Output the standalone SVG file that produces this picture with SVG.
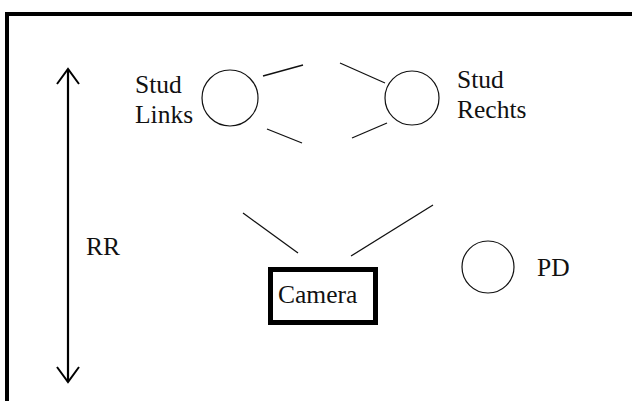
<svg xmlns="http://www.w3.org/2000/svg" width="632" height="401" viewBox="0 0 632 401">
<style>
text{font-family:"Liberation Serif","Times New Roman",serif;font-size:25.5px;fill:#111}
.c{fill:none;stroke:#111;stroke-width:1.2}
.l{stroke:#111;stroke-width:1.3;fill:none}
</style>
<rect width="632" height="401" fill="#fff"/>
<g id="frame" stroke="#000" stroke-width="4" fill="none">
<path d="M7 401V14H632"/>
</g>
<g id="rr">
<path d="M68 69V382" stroke="#000" stroke-width="2.2" fill="none"/>
<path d="M57 84L68 69L79 84M57 367L68 382L79 367" stroke="#000" stroke-width="2" fill="none"/>
<text x="86" y="255">RR</text>
</g>
<g id="stud-links">
<circle class="c" cx="230" cy="98" r="28"/>
<text x="135" y="93">Stud</text>
<text x="135" y="123">Links</text>
</g>
<g id="stud-rechts">
<circle class="c" cx="412" cy="98" r="27"/>
<text x="457" y="88">Stud</text>
<text x="457" y="118">Rechts</text>
</g>
<g id="pd">
<circle class="c" cx="488" cy="267" r="26"/>
<text x="537" y="276">PD</text>
</g>
<g id="camera">
<rect x="270.5" y="269.5" width="105" height="53" fill="#fff" stroke="#000" stroke-width="5"/>
<text x="278" y="303">Camera</text>
</g>
<g id="connectors" class="l">
<path d="M263 76L303 65"/>
<path d="M267 129L302 143"/>
<path d="M340 63L385 83"/>
<path d="M352 138L387 123"/>
<path d="M243 213L298 253"/>
<path d="M351 256L433 205"/>
</g>
</svg>
